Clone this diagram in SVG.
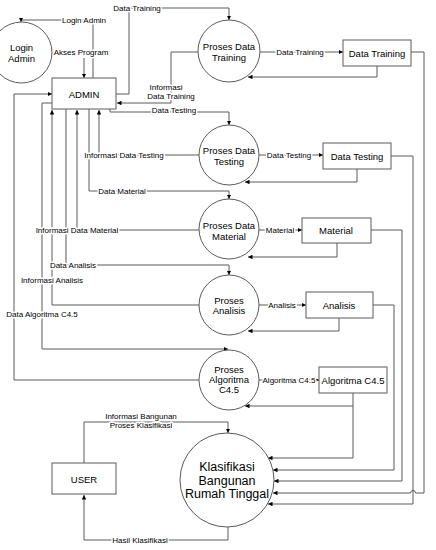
<svg xmlns="http://www.w3.org/2000/svg" width="436" height="550" viewBox="0 0 436 550">
<style>
.ln{fill:none;stroke:#5a5a5a;stroke-width:1}
.nd{fill:#fff;stroke:#5a5a5a;stroke-width:1}
.t{font-family:"Liberation Sans",Arial,sans-serif;font-size:9.5px;text-anchor:middle;fill:#000}
.big{font-size:12.5px}
.lb{font-family:"Liberation Sans",Arial,sans-serif;font-size:8px;text-anchor:middle;fill:#000;paint-order:stroke;stroke:#fff;stroke-width:3px;stroke-linejoin:round}
</style>
<defs>
<marker id="ar" viewBox="0 0 6 6" refX="6" refY="3" markerWidth="4.5" markerHeight="4.5" markerUnits="userSpaceOnUse" orient="auto">
<path d="M0,0L6,3L0,6z" fill="#000"/>
</marker>
</defs>
<rect width="436" height="550" fill="#fff"/>
<g id="connectors">
<path class="ln" marker-end="url(#ar)" d="M93,78V20H21V22"/>
<path class="ln" marker-end="url(#ar)" d="M84,58V78"/>
<path class="ln" marker-end="url(#ar)" d="M116,94H129V8H229V20"/>
<path class="ln" marker-end="url(#ar)" d="M260,52H343"/>
<path class="ln" marker-end="url(#ar)" d="M377,66V77H248"/>
<path class="ln" marker-end="url(#ar)" d="M198,52H171V103H117"/>
<path class="ln" marker-end="url(#ar)" d="M110,109V112H229V125"/>
<path class="ln" marker-end="url(#ar)" d="M259,155H323"/>
<path class="ln" marker-end="url(#ar)" d="M357,169V182H245"/>
<path class="ln" marker-end="url(#ar)" d="M199,155H99V110"/>
<path class="ln" marker-end="url(#ar)" d="M89,109V191H229V199"/>
<path class="ln" marker-end="url(#ar)" d="M259,230H302"/>
<path class="ln" marker-end="url(#ar)" d="M337,243V257H248"/>
<path class="ln" marker-end="url(#ar)" d="M199,230H77V110"/>
<path class="ln" marker-end="url(#ar)" d="M66,109V265H229V275"/>
<path class="ln" marker-end="url(#ar)" d="M259,305H306"/>
<path class="ln" marker-end="url(#ar)" d="M339,318V331H248"/>
<path class="ln" marker-end="url(#ar)" d="M199,305H52V110"/>
<path class="ln" marker-end="url(#ar)" d="M52,103H42V349H228"/>
<path class="ln" marker-end="url(#ar)" d="M199,380H14V94H52"/>
<path class="ln" marker-end="url(#ar)" d="M259,380H319"/>
<path class="ln" marker-end="url(#ar)" d="M353,393V406H245"/>
<path class="ln" marker-end="url(#ar)" d="M353,406V458H268"/>
<path class="ln" marker-end="url(#ar)" d="M373,305H394V470H273"/>
<path class="ln" marker-end="url(#ar)" d="M371,230H402V481H274"/>
<path class="ln" marker-end="url(#ar)" d="M391,156H413V504H268"/>
<path class="ln" marker-end="url(#ar)" d="M411,52H424V493H415.5A2.5,2.5 0 0 0 410.5,493H273"/>
<path class="ln" marker-end="url(#ar)" d="M84,463V422H228V433"/>
<path class="ln" marker-end="url(#ar)" d="M228,527V540H84V495"/>
<text class="lb" x="84" y="23">Login Admin</text>
<text class="lb" x="81" y="55">Akses Program</text>
<text class="lb" x="137" y="11">Data Training</text>
<text class="lb" x="300" y="55">Data Training</text>
<text class="lb" x="166" y="90">Informasi</text>
<text class="lb" x="171" y="99">Data Training</text>
<text class="lb" x="174" y="113">Data Testing</text>
<text class="lb" x="289" y="158">Data Testing</text>
<text class="lb" x="124" y="158">Informasi Data Testing</text>
<text class="lb" x="122" y="194">Data Material</text>
<text class="lb" x="280" y="233">Material</text>
<text class="lb" x="77" y="233">Informasi Data Material</text>
<text class="lb" x="73" y="268">Data Analisis</text>
<text class="lb" x="282" y="308">Analisis</text>
<text class="lb" x="52" y="283">Informasi Analisis</text>
<text class="lb" x="42" y="317">Data Algoritma C4.5</text>
<text class="lb" x="289" y="383">Algoritma C4.5</text>
<text class="lb" x="141" y="419">Informasi Bangunan</text>
<text class="lb" x="141" y="428">Proses Klasifikasi</text>
<text class="lb" x="140" y="543">Hasil Klasifikasi</text>
</g>
<g id="login-admin"><circle class="nd" cx="21.5" cy="52.5" r="30.5"/><text class="t" x="21.5" y="50.5">Login</text><text class="t" x="21.5" y="61.5">Admin</text></g>
<g id="admin"><rect class="nd" x="52" y="78" width="64" height="31"/><text class="t" x="84" y="97.5">ADMIN</text></g>
<g id="proses-data-training"><circle class="nd" cx="229" cy="51" r="31"/><text class="t" x="229" y="50">Proses Data</text><text class="t" x="229" y="61">Training</text></g>
<g id="data-training"><rect class="nd" x="343" y="40" width="68" height="26"/><text class="t" x="377" y="56.5">Data Training</text></g>
<g id="proses-data-testing"><circle class="nd" cx="229" cy="155" r="30"/><text class="t" x="229" y="153.5">Proses Data</text><text class="t" x="229" y="164.5">Testing</text></g>
<g id="data-testing"><rect class="nd" x="323" y="143" width="68" height="26"/><text class="t" x="357" y="159.5">Data Testing</text></g>
<g id="proses-data-material"><circle class="nd" cx="229" cy="229" r="30"/><text class="t" x="229" y="228.5">Proses Data</text><text class="t" x="229" y="239.5">Material</text></g>
<g id="material"><rect class="nd" x="302" y="218" width="69" height="25"/><text class="t" x="336" y="234">Material</text></g>
<g id="proses-analisis"><circle class="nd" cx="229" cy="305" r="30"/><text class="t" x="229" y="303.5">Proses</text><text class="t" x="229" y="313.5">Analisis</text></g>
<g id="analisis"><rect class="nd" x="306" y="292" width="67" height="26"/><text class="t" x="339" y="308.5">Analisis</text></g>
<g id="proses-algoritma"><circle class="nd" cx="229" cy="380" r="30"/><text class="t" x="229" y="372.5">Proses</text><text class="t" x="229" y="382.5">Algoritma</text><text class="t" x="229" y="392.5">C4.5</text></g>
<g id="algoritma-c45"><rect class="nd" x="319" y="367" width="68" height="26"/><text class="t" x="353" y="383.5">Algoritma C4.5</text></g>
<g id="klasifikasi"><circle class="nd" cx="227" cy="480" r="47"/><text class="t big" x="227" y="471">Klasifikasi</text><text class="t big" x="227" y="485">Bangunan</text><text class="t big" x="227" y="498">Rumah Tinggal</text></g>
<g id="user"><rect class="nd" x="52" y="463" width="64" height="31"/><text class="t" x="84" y="482.5">USER</text></g>
</svg>
